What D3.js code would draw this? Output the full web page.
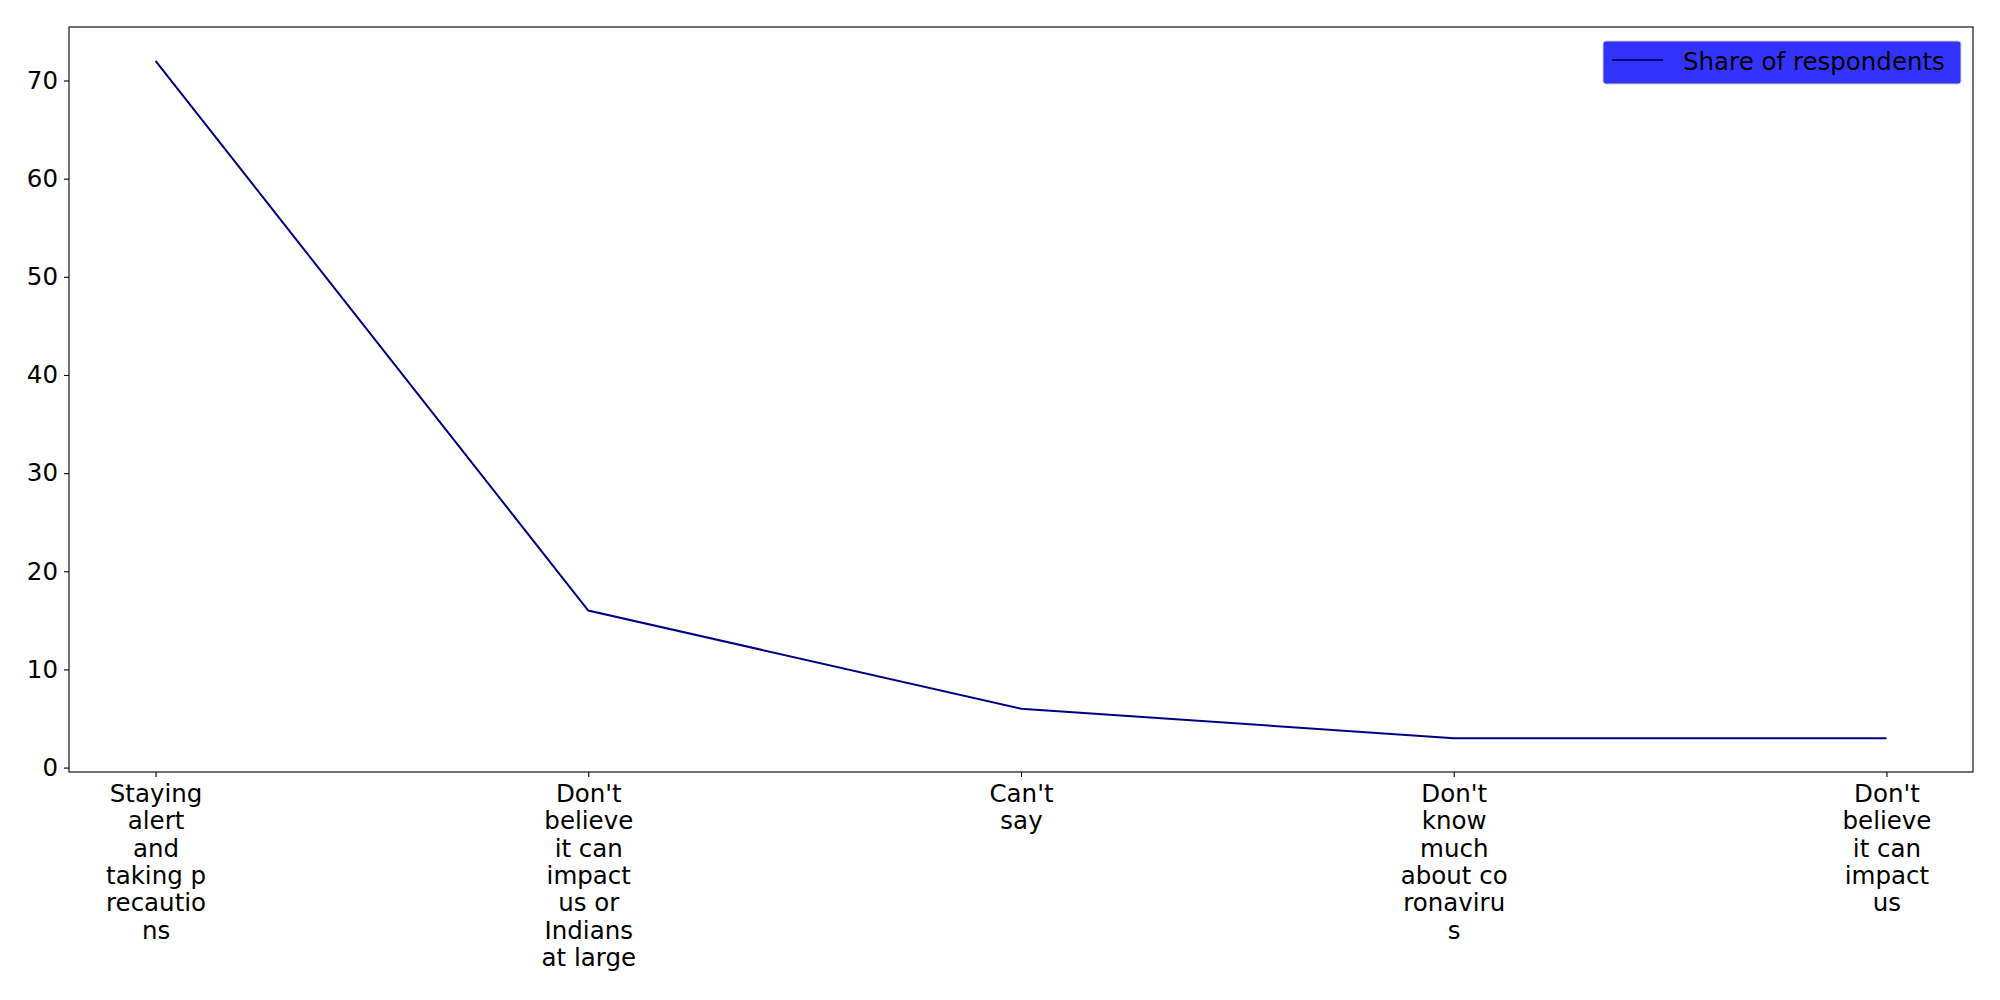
<!DOCTYPE html>
<html>
<head>
<meta charset="utf-8">
<script src="https://cdn.jsdelivr.net/npm/d3@7"></script>
<style>
    body { margin: 0; background: #ffffff; }
    text { font-family: "DejaVu Sans", sans-serif; }
</style>
</head>
<body>
<div id="chart"></div>
<script>
//Data
var categories = [
    "Staying alert and taking precautions",
    "Don't believe it can impact us or Indians at large",
    "Can't say",
    "Don't know much about coronavirus",
    "Don't believe it can impact us"
];
var tickLabels = [
    ["Staying", "alert", "and", "taking p", "recautio", "ns"],
    ["Don't", "believe", "it can", "impact", "us or", "Indians", "at large"],
    ["Can't", "say"],
    ["Don't", "know", "much", "about co", "ronaviru", "s"],
    ["Don't", "believe", "it can", "impact", "us"]
];
var shareValues = [72, 16, 6, 3, 3];
var yTicks = [0, 10, 20, 30, 40, 50, 60, 70];
var seriesName = "Share of respondents";

//Layout
var WIDTH = 2000;
var HEIGHT = 1000;
var LEFT = 69;
var RIGHT = 1973;
var TOP = 27;
var BOTTOM = 772;
var FONT_SIZE = 24.5;
var LINE_HEIGHT = 27.4;
var FIRST_BASELINE = 29.7;

//Color
var LINE_COLOR = "#000080";
var LEGEND_BG = "#3333ff";

var svg = d3.select("#chart").append("svg")
    .attr("width", WIDTH)
    .attr("height", HEIGHT);

// matplotlib style 5% margins
var xPad = (categories.length - 1) * 0.05;
var x = d3.scaleLinear()
    .domain([-xPad, categories.length - 1 + xPad])
    .range([LEFT, RIGHT]);

var yMin = d3.min(shareValues), yMax = d3.max(shareValues);
var yPad = (yMax - yMin) * 0.05;
var y = d3.scaleLinear()
    .domain([yMin - yPad, yMax + yPad])
    .range([BOTTOM, TOP]);

/*Axes*/
var xAxis = d3.axisBottom(x)
    .tickValues(d3.range(categories.length))
    .tickSize(5)
    .tickPadding(5)
    .tickFormat(function () { return ""; });

var xAxisG = svg.append("g")
    .attr("transform", "translate(0," + BOTTOM + ")")
    .call(xAxis);
xAxisG.select(".domain").remove();

xAxisG.selectAll(".tick").each(function (d) {
    var t = d3.select(this).select("text")
        .attr("y", 10)
        .attr("dy", null)
        .style("font-size", FONT_SIZE + "px")
        .attr("fill", "#000");
    tickLabels[d].forEach(function (line, i) {
        t.append("tspan")
            .attr("x", 0)
            .attr("y", FIRST_BASELINE + i * LINE_HEIGHT)
            .text(line);
    });
});

var yAxis = d3.axisLeft(y)
    .tickValues(yTicks)
    .tickSize(5)
    .tickPadding(6);

var yAxisG = svg.append("g")
    .attr("transform", "translate(" + LEFT + ",0)")
    .call(yAxis);
yAxisG.select(".domain").remove();
yAxisG.selectAll("text")
    .style("font-size", FONT_SIZE + "px")
    .attr("fill", "#000");

svg.selectAll(".tick line")
    .attr("stroke", "#000")
    .attr("stroke-width", 1.1);

// frame
svg.append("rect")
    .attr("x", LEFT)
    .attr("y", TOP)
    .attr("width", RIGHT - LEFT)
    .attr("height", BOTTOM - TOP)
    .attr("fill", "none")
    .attr("stroke", "#000")
    .attr("stroke-width", 1.1);

/*Line*/
var line = d3.line()
    .x(function (d, i) { return x(i); })
    .y(function (d) { return y(d); });

svg.append("path")
    .datum(shareValues)
    .attr("d", line)
    .attr("fill", "none")
    .attr("stroke", LINE_COLOR)
    .attr("stroke-width", 2);

/*Legend*/
var legend = svg.append("g")
    .attr("transform", "translate(1603,41)");

legend.append("rect")
    .attr("width", 358)
    .attr("height", 43)
    .attr("rx", 3)
    .attr("fill", LEGEND_BG)
    .attr("stroke", "#cccccc")
    .attr("stroke-width", 1);

legend.append("line")
    .attr("x1", 9)
    .attr("x2", 60)
    .attr("y1", 19)
    .attr("y2", 19)
    .attr("stroke", LINE_COLOR)
    .attr("stroke-width", 2);

legend.append("text")
    .attr("x", 80)
    .attr("y", 29)
    .style("font-size", FONT_SIZE + "px")
    .attr("fill", "#000")
    .text(seriesName);
</script>
</body>
</html>
